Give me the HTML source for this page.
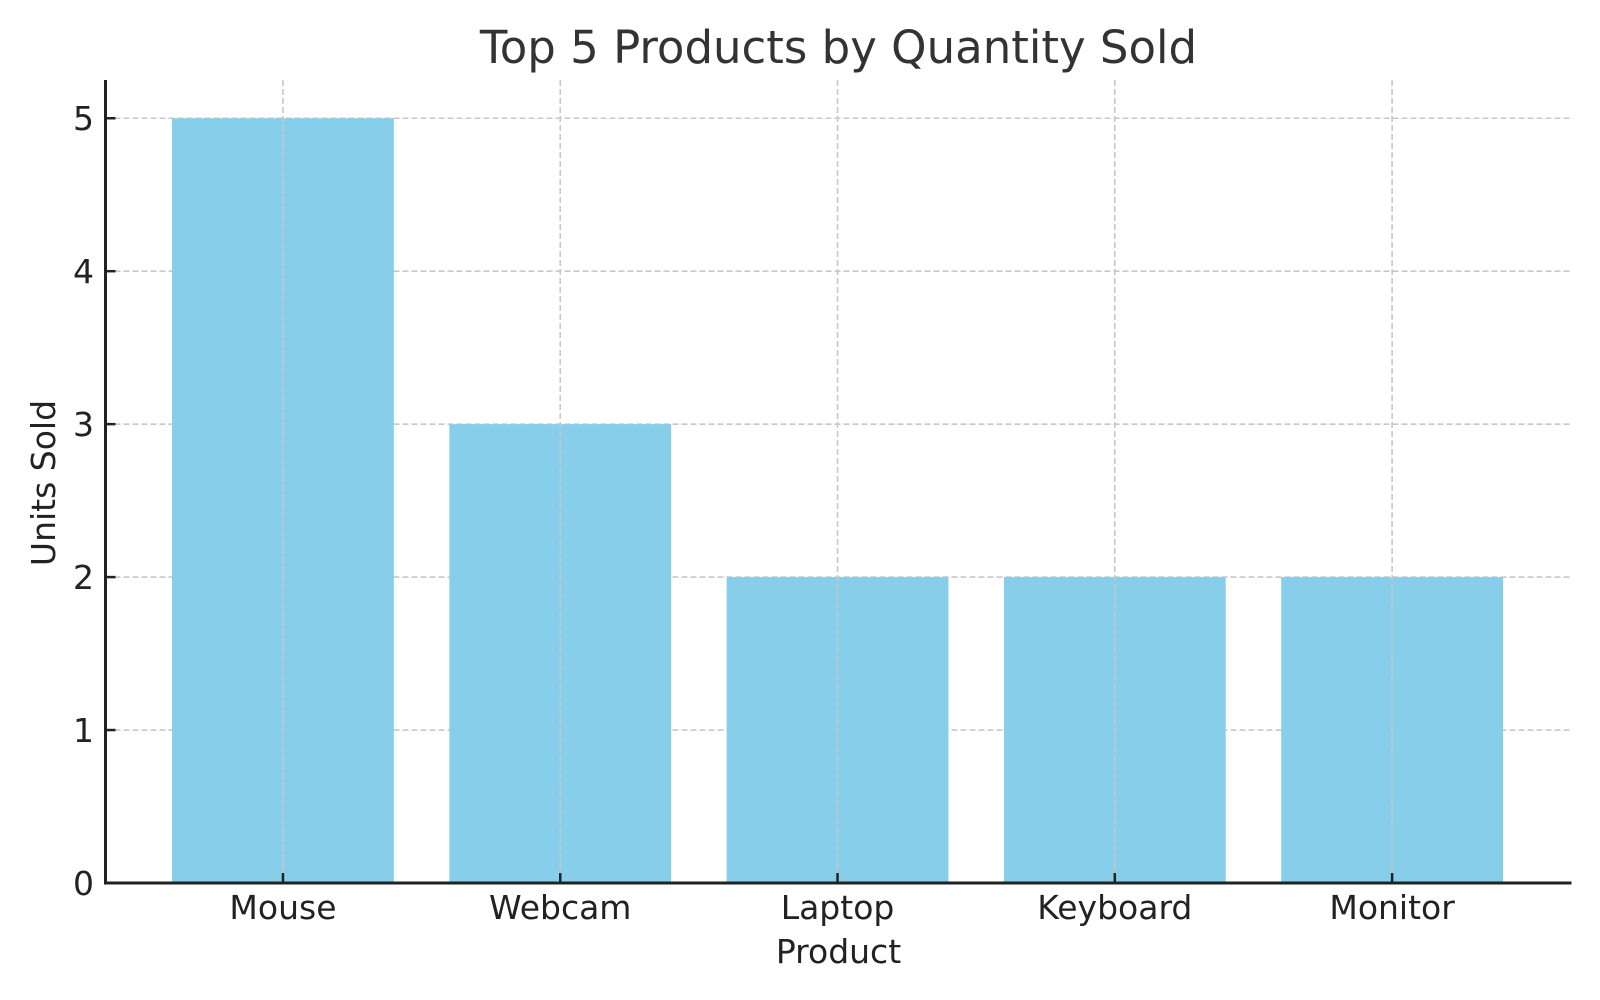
<!DOCTYPE html>
<html><head><meta charset="utf-8"><style>
html,body{margin:0;padding:0;background:#fff;}
svg{display:block;font-family:"DejaVu Sans","Liberation Sans",sans-serif;}
</style></head><body>
<svg id="chart" width="1600" height="1000" viewBox="0 0 1600 1000">
<text x="838.5" y="63" text-anchor="middle" font-size="45" fill="#333">Top 5 Products by Quantity Sold</text>
<g id="grid"></g>
<g id="bars"></g>
<g id="ticks"></g>
<text x="838.5" y="963" text-anchor="middle" font-size="33" fill="#222">Product</text>
<text transform="translate(55,483) rotate(-90)" text-anchor="middle" font-size="33" fill="#222">Units Sold</text>
</svg>
<script>
const categories = ["Mouse","Webcam","Laptop","Keyboard","Monitor"];
const unitsSold = [5,3,2,2,2];
const yTicks = [0,1,2,3,4,5];

const L=105.5,R=1571.5,T=80,B=883;
const xMin=-0.64,xMax=4.647,yMin=0,yMax=5.25;
function xs(i){return L+(i-xMin)/(xMax-xMin)*(R-L);}
function ys(v){return B-(v-yMin)/(yMax-yMin)*(B-T);}
const NS="http://www.w3.org/2000/svg";
function mk(tag,attrs,parent){const e=document.createElementNS(NS,tag);for(const k in attrs)e.setAttribute(k,attrs[k]);parent.appendChild(e);return e;}
const grid=document.getElementById('grid'),bars=document.getElementById('bars'),ticks=document.getElementById('ticks');
const bw=0.8*(xs(1)-xs(0));
yTicks.forEach(v=>{
  const y=ys(v);
  const g=mk('line',{x1:L,x2:R,y1:y,y2:y,stroke:'#c8c8c8','stroke-width':1.6,'stroke-dasharray':'6,3'},grid);
  
  
  const t=mk('line',{x1:L,x2:L+10,y1:y,y2:y,stroke:'#222','stroke-width':2.5},ticks);
  
  
  const lb=mk('text',{x:94,y:y+12,'text-anchor':'end','font-size':33,fill:'#222'},ticks);
  lb.textContent=v;
  
  
});
categories.forEach((c,i)=>{
  const x=xs(i);
  const b=mk('rect',{x:x-bw/2,y:ys(unitsSold[i]),width:bw,height:ys(0)-ys(unitsSold[i]),fill:'#87ceeb'},bars);
  
  
  const g=mk('line',{x1:x,x2:x,y1:T,y2:B,stroke:'#c8c8c8','stroke-width':1.6,'stroke-dasharray':'6,3'},ticks);
  
  
  const t=mk('line',{x1:x,x2:x,y1:B,y2:B-10,stroke:'#222','stroke-width':2.5},ticks);
  
  
  const lb=mk('text',{x:x,y:919,'text-anchor':'middle','font-size':33,fill:'#222'},ticks);
  lb.textContent=c;
  
  
});
const sl=mk('line',{x1:L,x2:L,y1:T,y2:B+1.5,stroke:'#222','stroke-width':3},ticks);


const sb=mk('line',{x1:L-1.5,x2:R,y1:B,y2:B,stroke:'#222','stroke-width':3},ticks);


</script>
</body></html>
